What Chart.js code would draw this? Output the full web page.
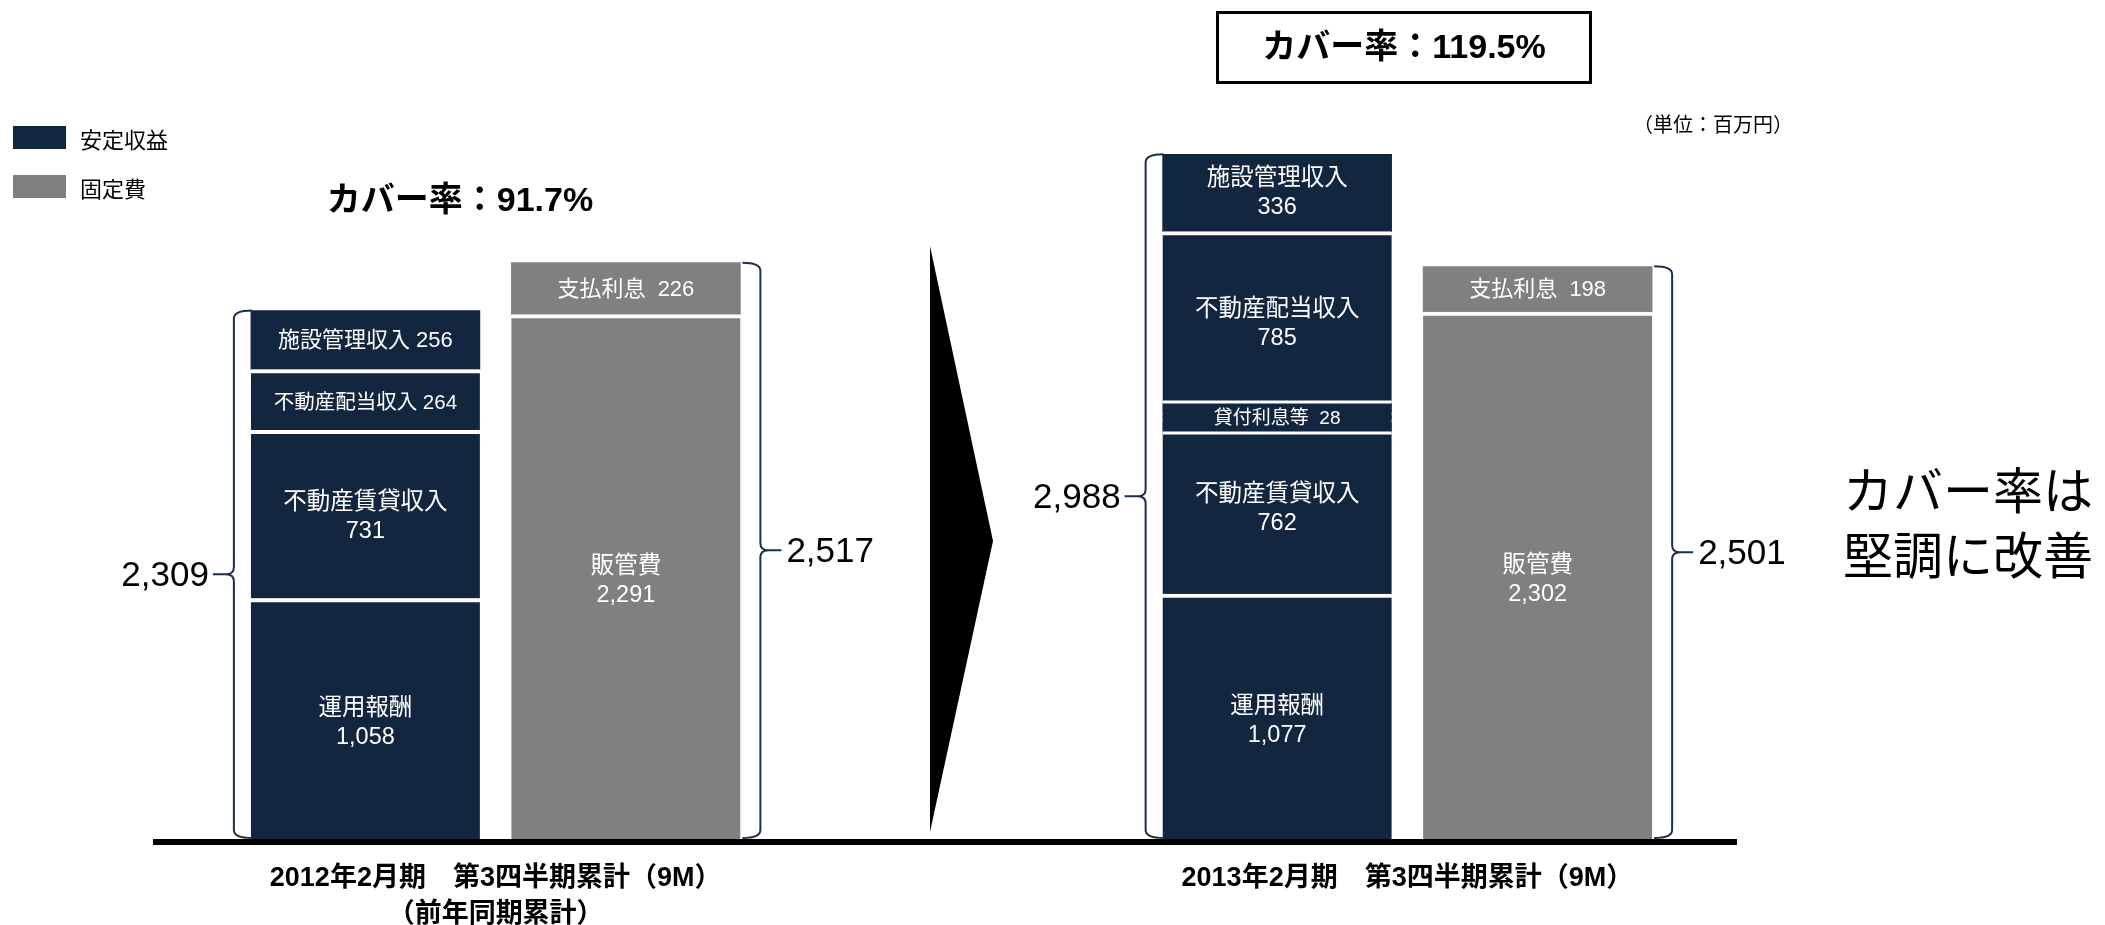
<!DOCTYPE html>
<html lang="ja">
<head>
<meta charset="utf-8">
<title>安定収益と固定費</title>
<script src="https://cdn.jsdelivr.net/npm/chart.js@4.4.1/dist/chart.umd.min.js"></script>
<style>
  html, body { margin: 0; padding: 0; background: #fff; }
  #wrap { width: 2105px; height: 925px; position: relative; }
  #warm { position: absolute; left: -9999px; font-family: 'Liberation Sans', 'Noto Sans CJK JP'; }
</style>
</head>
<body>
<div id="wrap"><canvas id="chart" width="2105" height="925"></canvas></div>
<div id="warm">カバー率 2,309 <b>カバー率 91.7%</b></div>
<script>
// x slots: bars sit in 1, 3, 8, 10; period labels in 2 and 9
const slotLabels = ['', '', ['2012年2月期　第3四半期累計（9M）', '（前年同期累計）'], '', '', '', '', '', '',
    '2013年2月期　第3四半期累計（9M）', '', ''];
const incomeSlots = [1, 8];
const costSlots = [3, 10];

// stable income, bottom to top
const incomeItems = ['運用報酬', '不動産賃貸収入', '貸付利息等', '不動産配当収入', '施設管理収入'];
const income2012 = [1058, 731, null, 264, 256];
const income2013 = [1077, 762, 28, 785, 336];

// fixed costs, bottom to top
const costItems = ['販管費', '支払利息'];
const cost2012 = [2291, 226];
const cost2013 = [2302, 198];

const incomeTotals = [2309, 2988];
const costTotals = [2517, 2501];
const coverLabels = ['カバー率：91.7%', 'カバー率：119.5%'];

const NAVY = '#13263f';
const GRAY = '#808080';
const BRACE = '#1c3050';
const LATIN = "'Liberation Sans', 'Noto Sans CJK JP', sans-serif";
const CJK = "'Noto Sans CJK JP', sans-serif";

function slotData(slots, values) {
    const d = slotLabels.map(() => null);
    slots.forEach((s, i) => { d[s] = values[i]; });
    return d;
}

const datasets = [];
incomeItems.forEach((name, k) => {
    datasets.push({ label: name, kind: 'income', data: slotData(incomeSlots, [income2012[k], income2013[k]]), backgroundColor: NAVY });
});
costItems.forEach((name, k) => {
    datasets.push({ label: name, kind: 'cost', data: slotData(costSlots, [cost2012[k], cost2013[k]]), backgroundColor: GRAY });
});

// white gap on top of every segment that has another one above it
function gapWidth(ctx) {
    const i = ctx.dataIndex;
    if (i === undefined) return 0;
    const above = ctx.chart.data.datasets.slice(ctx.datasetIndex + 1).some(d => d.data[i] != null);
    return { top: above ? 4 : 0, right: 0, bottom: 0, left: 0 };
}

const fmt = v => v.toLocaleString('en-US');

function fitFont(ctx, text, size, maxW) {
    let s = size;
    ctx.font = `${s}px ${LATIN}`;
    while (ctx.measureText(text).width > maxW && s > 10) {
        s -= 0.5;
        ctx.font = `${s}px ${LATIN}`;
    }
    return s;
}

// labels inside the bar segments
const segmentLabels = {
    id: 'segmentLabels',
    afterDatasetsDraw(chart) {
        const ctx = chart.ctx;
        ctx.save();
        ctx.textAlign = 'center';
        ctx.textBaseline = 'middle';
        chart.data.datasets.forEach((ds, di) => {
            const meta = chart.getDatasetMeta(di);
            meta.data.forEach((bar, i) => {
                const v = ds.data[i];
                if (v == null) return;
                const p = bar.getProps(['x', 'y', 'base', 'width'], true);
                const gap = gapWidth({ chart, dataIndex: i, datasetIndex: di }).top;
                const top = p.y + gap;
                const h = p.base - top;
                const cy = (top + p.base) / 2;
                const sep = ds.label.length <= 5 ? '  ' : ' ';
                ctx.fillStyle = '#fff';
                if (h < 20) {
                    // thin slice: label on its own band
                    const bh = 30;
                    ctx.fillStyle = NAVY;
                    ctx.fillRect(p.x - p.width / 2, cy - bh / 2, p.width, bh);
                    ctx.fillStyle = '#fff';
                    ctx.fillRect(p.x - p.width / 2, cy - bh / 2 - 2, p.width, 3);
                    ctx.fillRect(p.x - p.width / 2, cy + bh / 2 - 1, p.width, 3);
                    const t = ds.label + sep + fmt(v);
                    fitFont(ctx, t, 19, p.width - 40);
                    ctx.fillText(t, p.x, cy + 1);
                } else if (h < 70) {
                    const t = ds.label + sep + fmt(v);
                    fitFont(ctx, t, 22, 185);
                    ctx.fillText(t, p.x, cy + 1);
                } else {
                    ctx.font = `23.5px ${LATIN}`;
                    ctx.fillText(ds.label, p.x, cy - 14);
                    ctx.fillText(fmt(v), p.x, cy + 15);
                }
            });
        });
        ctx.restore();
    }
};

function drawBrace(ctx, xLine, yTop, yBot, dir) {
    // dir -1: bar on the right, point to the left; +1: mirrored
    const mid = (yTop + yBot) / 2;
    const hook = -dir * 18;
    ctx.beginPath();
    ctx.moveTo(xLine + hook, yTop);
    ctx.quadraticCurveTo(xLine, yTop, xLine, yTop + 8);
    ctx.lineTo(xLine, mid - 7);
    ctx.quadraticCurveTo(xLine, mid, xLine + dir * 8, mid);
    ctx.quadraticCurveTo(xLine, mid, xLine, mid + 7);
    ctx.lineTo(xLine, yBot - 8);
    ctx.quadraticCurveTo(xLine, yBot, xLine + hook, yBot);
    ctx.moveTo(xLine + dir * 8, mid);
    ctx.lineTo(xLine + dir * 21, mid);
    ctx.stroke();
}

const annotations = {
    id: 'annotations',
    afterDraw(chart) {
        const ctx = chart.ctx;
        const area = chart.chartArea;
        ctx.save();

        // baseline
        ctx.strokeStyle = '#000';
        ctx.lineWidth = 6;
        ctx.beginPath();
        ctx.moveTo(153, area.bottom);
        ctx.lineTo(1737, area.bottom);
        ctx.stroke();

        // braces and totals
        ctx.strokeStyle = BRACE;
        ctx.lineWidth = 2;
        ctx.fillStyle = '#000';
        ctx.textBaseline = 'middle';
        ctx.font = `35px ${LATIN}`;
        const incomeMeta = chart.getDatasetMeta(incomeItems.length - 1);
        const costMeta = chart.getDatasetMeta(datasets.length - 1);
        incomeSlots.forEach((s, k) => {
            const bar = incomeMeta.data[s].getProps(['x', 'width'], true);
            const left = bar.x - bar.width / 2;
            const yTop = chart.scales.y.getPixelForValue(incomeTotals[k]);
            const xLine = left - 17;
            drawBrace(ctx, xLine, yTop, area.bottom - 4, -1);
            ctx.textAlign = 'right';
            ctx.fillText(fmt(incomeTotals[k]), xLine - 25, (yTop + area.bottom - 4) / 2 + 2);
        });
        costSlots.forEach((s, k) => {
            const bar = costMeta.data[s].getProps(['x', 'width'], true);
            const right = bar.x + bar.width / 2;
            const yTop = chart.scales.y.getPixelForValue(costTotals[k]);
            const xLine = right + 20;
            drawBrace(ctx, xLine, yTop, area.bottom - 4, 1);
            ctx.textAlign = 'left';
            ctx.fillText(fmt(costTotals[k]), xLine + 26, (yTop + area.bottom - 4) / 2 + 2);
        });

        // arrow between the periods
        ctx.fillStyle = '#000';
        ctx.beginPath();
        ctx.moveTo(930, 246);
        ctx.lineTo(993, 541);
        ctx.lineTo(930, 832);
        ctx.closePath();
        ctx.fill();

        // coverage ratios
        ctx.textAlign = 'center';
        ctx.font = `bold 34px ${LATIN}`;
        ctx.fillText(coverLabels[0], 460, 202);
        ctx.lineWidth = 3;
        ctx.strokeStyle = '#000';
        ctx.strokeRect(1217.5, 12.5, 373, 70);
        ctx.fillText(coverLabels[1], 1404, 49);

        // unit
        ctx.textAlign = 'left';
        ctx.font = `20px ${CJK}`;
        ctx.fillText('（単位：百万円）', 1633, 124);

        // legend
        ctx.fillStyle = NAVY;
        ctx.fillRect(13, 126, 53, 23);
        ctx.fillStyle = GRAY;
        ctx.fillRect(13, 175, 53, 23);
        ctx.fillStyle = '#000';
        ctx.font = `22px ${CJK}`;
        ctx.fillText('安定収益', 80, 140);
        ctx.fillText('固定費', 80, 189);

        // conclusion
        ctx.font = `50px ${CJK}`;
        ctx.fillText('カバー率は', 1843, 490);
        ctx.fillText('堅調に改善', 1843, 555);

        ctx.restore();
    }
};

function build() {
    new Chart(document.getElementById('chart'), {
        type: 'bar',
        data: { labels: slotLabels, datasets },
        options: {
            responsive: false,
            animation: false,
            devicePixelRatio: 1,
            barThickness: 229,
            borderColor: '#fff',
            borderWidth: gapWidth,
            layout: { padding: { left: 170, right: 372, top: 18, bottom: 0 } },
            plugins: { legend: { display: false }, tooltip: { enabled: false } },
            scales: {
                x: {
                    stacked: true,
                    grid: { display: false, drawTicks: false },
                    border: { display: false },
                    ticks: {
                        autoSkip: false, maxRotation: 0, minRotation: 0, padding: 18,
                        color: '#000',
                        font: { family: LATIN, size: 27, weight: 'bold', lineHeight: 1.35 }
                    },
                    afterFit: scale => { scale.height = 83; }
                },
                y: { stacked: true, display: false, min: 0, max: 3580 }
            }
        },
        plugins: [segmentLabels, annotations]
    });
}

if (document.fonts && document.fonts.ready) {
    document.fonts.ready.then(build);
} else {
    build();
}
</script>
</body>
</html>
